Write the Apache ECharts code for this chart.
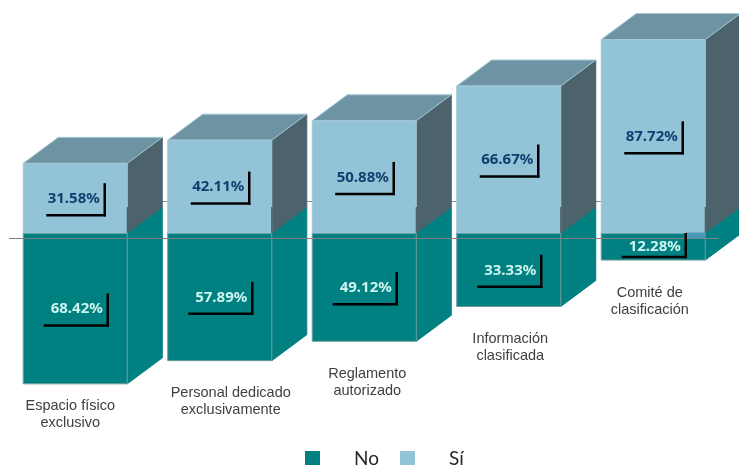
<!DOCTYPE html>
<html>
<head>
<meta charset="utf-8">
<style>html,body{margin:0;padding:0;background:#fff}#chart{width:739px;height:465px}</style>
<script src="https://cdn.jsdelivr.net/npm/echarts@6/dist/echarts.min.js"></script>
</head>
<body>
<div id="chart"></div>
<script>
// Porcentajes por rubro
var categories = ['Espacio físico\nexclusivo', 'Personal dedicado\nexclusivamente', 'Reglamento\nautorizado', 'Información\nclasificada', 'Comité de\nclasificación'];
var noValues = [68.42, 57.89, 49.12, 33.33, 12.28];
var siValues = [31.58, 42.11, 50.88, 66.67, 87.72];

// Pixel offsets of the category captions relative to each column
var captionShift = [-5, 11, 3, 1.5, -3.5];
var captionGap = [14, 24, 24, 24, 24];

var DEPTH_X = 35, DEPTH_Y = 26, BAR_RATIO = 0.72;
var TEAL = '#008080', TEAL_EDGE = '#6f9c9e';
var SKY = '#93c3d6', SKY_EDGE = '#a3c8d6', SKY_TOP = '#6e93a2', SKY_SIDE = '#4d636c';

function poly(points, fill, stroke) {
  return { type: 'polygon', shape: { points: points }, style: { fill: fill, stroke: stroke || fill, lineWidth: 1 } };
}
function seg(x1, y1, x2, y2, color, w) {
  return { type: 'line', shape: { x1: x1, y1: y1, x2: x2, y2: y2 }, style: { stroke: color, lineWidth: w, lineCap: 'butt' } };
}
function frame(api) {
  var i = api.value(0), v = api.value(1);
  var half = api.size([1, 0])[0] * BAR_RATIO / 2;
  var base = api.coord([i, 0]);
  return { i: i, v: v, l: base[0] - half, r: base[0] + half, cx: base[0], y0: base[1] };
}

// Lower block: front face and the side wall running back from it
function renderNo(params, api) {
  var f = frame(api), b = api.coord([f.i, -f.v])[1];
  return { type: 'group', children: [
    poly([[f.r, f.y0], [f.r + DEPTH_X, f.y0 - DEPTH_Y], [f.r + DEPTH_X, b - DEPTH_Y], [f.r, b]], TEAL, TEAL),
    poly([[f.l, f.y0], [f.r, f.y0], [f.r, b], [f.l, b]], TEAL, TEAL_EDGE),
    seg(f.l, f.y0, f.r, f.y0, TEAL, 1)
  ]};
}
// Upper block: front, lid and side wall
function renderSi(params, api) {
  var f = frame(api), t = api.coord([f.i, f.v])[1];
  return { type: 'group', children: [
    poly([[f.r, f.y0], [f.r + DEPTH_X, f.y0 - DEPTH_Y], [f.r + DEPTH_X, t - DEPTH_Y], [f.r, t]], SKY_SIDE, SKY_SIDE),
    poly([[f.l, t], [f.l + DEPTH_X, t - DEPTH_Y], [f.r + DEPTH_X, t - DEPTH_Y], [f.r, t]], SKY_TOP, SKY_EDGE),
    poly([[f.l, f.y0], [f.r, f.y0], [f.r, t], [f.l, t]], SKY, SKY_EDGE),
    seg(f.r, f.y0 - DEPTH_Y, f.r, f.y0, '#3c4c54', 1)
  ]};
}
// Back and front floor lines of the 3D plane
function renderBackLine(params, api) {
  var y0 = api.coord([0, 0])[1], c = params.coordSys;
  return seg(c.x + 100, y0 - 31.5, api.getWidth(), y0 - 31.5, '#8c8c8c', 1);
}
function renderFrontLine(params, api) {
  var y0 = api.coord([0, 0])[1], c = params.coordSys;
  return seg(c.x + 6, y0 + 5.5, c.x + c.width - 7.5, y0 + 5.5, '#808080', 1);
}
// Value caption with its L-shaped bracket, centred on the block
function valueLabel(api, sign, textColor, cornerX, span) {
  var f = frame(api);
  var end = api.coord([f.i, sign * f.v])[1];
  var mid = (f.y0 + end) / 2;
  var cy = mid + 17, top = mid - 15;
  var kids = [];
  if (sign < 0 && cy > end - 3) {
    cy = end - 3;
    top = Math.max(top, f.y0);
    kids.push(poly([[f.l + cornerX, f.y0], [f.r, f.y0], [f.r, f.y0 + 5], [f.l + cornerX, f.y0 + 5]], '#4b9ab5'));
  }
  var cx = f.l + cornerX;
  kids.push(seg(cx - span, cy, cx + 1.2, cy, '#000', 2.5));
  kids.push(seg(cx, top, cx, cy + 1.2, '#000', 2.5));
  kids.push({ type: 'text', style: { x: cx - 31, y: mid + 0.5, text: f.v.toFixed(2) + '%', fill: textColor,
    font: 'bold 15px "Noto Sans"', align: 'center', verticalAlign: 'middle' } });
  return { type: 'group', children: kids };
}
function renderNoLabel(params, api) { return valueLabel(api, -1, '#cdf5f0', 84.5, 64); }
function renderSiLabel(params, api) { return valueLabel(api, 1, '#123f70', 81.5, 58.5); }
// Caption under each column
function renderCaption(params, api) {
  var f = frame(api), b = api.coord([f.i, -f.v])[1];
  return { type: 'text', style: { x: f.cx + captionShift[f.i], y: b + captionGap[f.i], text: categories[f.i], fill: '#404040',
    font: '14.5px "Liberation Sans"', lineHeight: 17, align: 'center', verticalAlign: 'top' } };
}

function pairs(values) { return values.map(function (v, i) { return [i, v]; }); }
function layer(name, render, data, z, color) {
  return { name: name, type: 'custom', renderItem: render, data: data, z: z, silent: true,
    encode: { x: 0, y: 1 }, itemStyle: color ? { color: color } : undefined, clip: false };
}

var chart = echarts.init(document.getElementById('chart'), null, { renderer: 'canvas' });
chart.setOption({
  animation: false,
  backgroundColor: '#fff',
  grid: { left: 3, top: 12.5, width: 722.5, height: 396.9 },
  xAxis: { type: 'category', data: categories, show: false },
  yAxis: { type: 'value', min: -80, max: 100, show: false },
  tooltip: { show: false },
  legend: {
    data: ['No', 'Sí'], left: 305, top: 449, padding: 0, itemWidth: 15, itemHeight: 15, itemGap: 21, selectedMode: false,
    icon: 'rect',
    textStyle: { color: '#2a2a2a', fontFamily: 'Lato', fontSize: 19, padding: [0, 0, 0, 29] }
  },
  series: [
    layer('back', renderBackLine, [[0, 0]], 1),
    layer('No', renderNo, pairs(noValues), 2, TEAL),
    layer('Sí', renderSi, pairs(siValues), 3, SKY),
    layer('front', renderFrontLine, [[0, 0]], 4),
    layer('etiquetas No', renderNoLabel, pairs(noValues), 5),
    layer('etiquetas Sí', renderSiLabel, pairs(siValues), 5),
    layer('rubros', renderCaption, pairs(noValues), 5)
  ]
});
</script>
</body>
</html>
